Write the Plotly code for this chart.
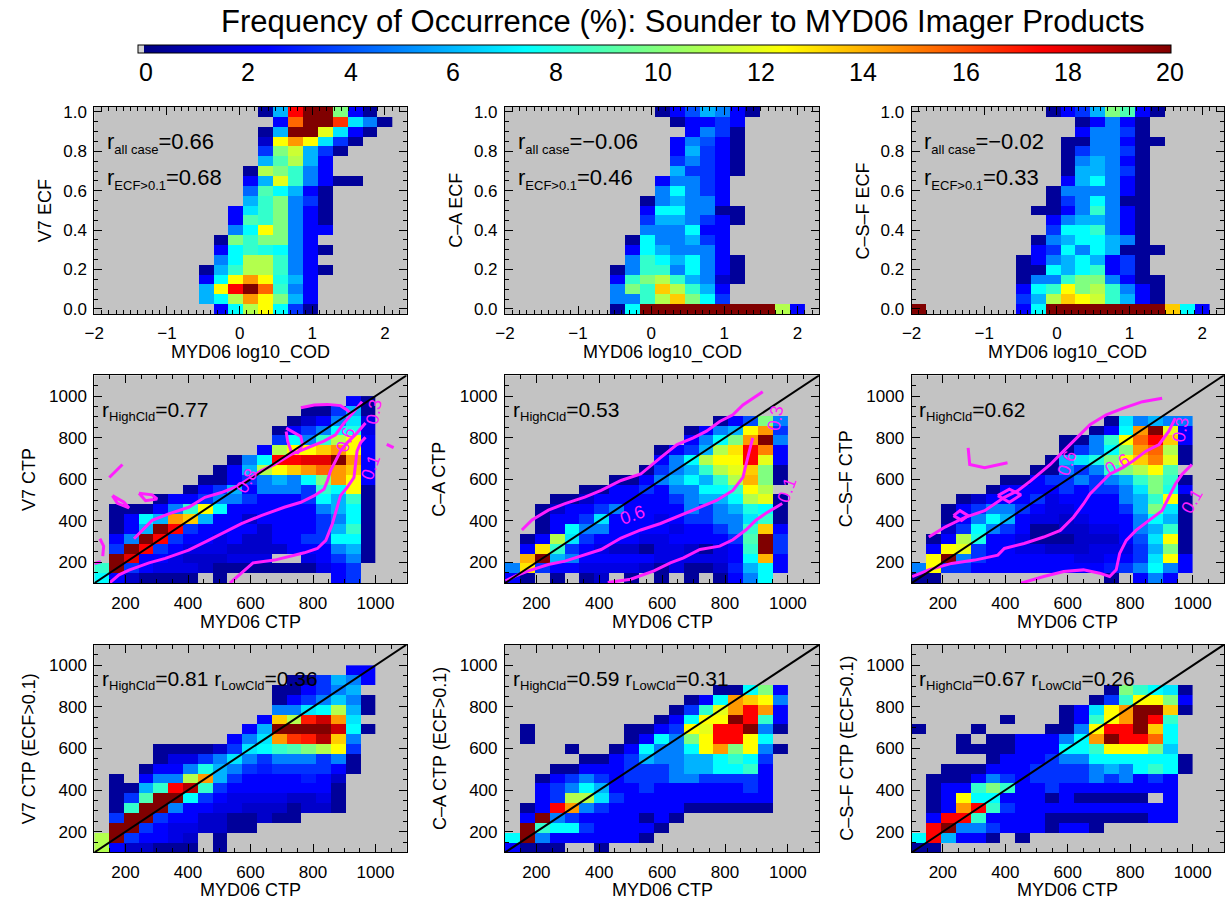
import numpy as np
import plotly.graph_objects as go

N = None

# ---------------------------------------------------------------------------
# Bin geometry
# ---------------------------------------------------------------------------
COD_EDGES = np.linspace(-2.0, 2.1, 21)      # log10(COD) histogram bins
ECF_EDGES = np.linspace(-0.025, 1.025, 22)  # ECF bins centred on 0.00 ... 1.00
CTP_EDGES = np.linspace(100.0, 1000.0, 20)  # CTP bins (hPa)
COD_FIRST_COL = 7                           # first populated COD bin in the tables below

# ---------------------------------------------------------------------------
# Row 1: sounder ECF vs MYD06 log10(COD), frequency (%)
# rows listed from ECF = 1.00 (top) down to ECF = 0.00; 13 COD bins each
# ---------------------------------------------------------------------------
V7_ECF = [
    [N, N, N, N, 0.6, 6, 17.5, 20, 20, 10, 2.5, 0.6, N],
    [N, N, N, N, N, 2.5, 15.5, 20, 20, 16.5, 7, 5, 0.6],
    [N, N, N, N, 0.6, 6, 20, 20, 12, 7, 2.5, 0.6, N],
    [N, N, N, N, 1.5, 12.5, 14.5, 12.5, 7, 3.5, 0.6, N, N],
    [N, N, N, N, 3.5, 10, 11.5, 6, 3.5, 0.6, N, N, N],
    [N, N, N, N, 6, 9, 11, 6, 2.5, N, N, N, N],
    [N, N, N, 0.6, 11, 10, 8.5, 5, 2.5, N, N, N, N],
    [N, N, N, 2.5, 6, 12, 8.5, 5, 2.5, 0.6, 0.6, N, N],
    [N, N, N, 4.5, 9, 7.5, 6, 2.5, 0.6, N, N, N, N],
    [N, N, N, 6, 8.5, 10, 5, 3.5, 0.6, N, N, N, N],
    [N, N, 2.5, 7, 8.5, 10, 5, 2.5, 0.6, N, N, N, N],
    [N, N, 2.5, 9, 8.5, 10, 5, 2.5, 0.6, N, N, N, N],
    [N, N, 5, 7.5, 12.5, 10, 5, 2.5, 2.5, N, N, N, N],
    [N, 0.6, 10, 8.5, 10, 10, 5, 2.5, N, N, N, N, N],
    [N, 2.5, 7.5, 8.5, 8, 7.5, 5, 2.5, 0.6, N, N, N, N],
    [N, 5, 7.5, 11, 11, 8.5, 5, 2.5, N, N, N, N, N],
    [0.6, 6, 8.5, 11, 11, 8.5, 5, 2.5, 0.6, N, N, N, N],
    [2.5, 7.5, 12.5, 14.5, 12.5, 8, 6, 2.5, N, N, N, N, N],
    [6, 12.5, 17.5, 20, 15.5, 8.5, 5, 2.5, N, N, N, N, N],
    [6, 7.5, 11, 14.5, 12.5, 10, 6, 2.5, N, N, N, N, N],
    [N, 2.5, 7.5, 11, 12.5, 7.5, 3.5, 0.6, N, N, N, N, N],
]

CA_ECF = [
    [N, N, N, 0.6, 2.5, 4, 6, 5, 2.5, 0.6, N, N, N],
    [N, N, N, N, 0.6, 2.5, 2.5, 3.5, 2.5, N, N, N, N],
    [N, N, N, N, N, 2.5, 5, 3.5, 0.6, N, N, N, N],
    [N, N, N, N, 2.5, 5, 4, 2.5, 0.6, N, N, N, N],
    [N, N, N, N, 2.5, 6, 3.5, 2.5, 0.6, N, N, N, N],
    [N, N, N, N, 3.5, 5, 3.5, 2.5, 0.6, N, N, N, N],
    [N, N, N, N, 6, 3.5, 3.5, 2.5, 0.6, N, N, N, N],
    [N, N, N, 2.5, 5, 5, 3.5, 2.5, N, N, N, N, N],
    [N, N, N, 5, 7.5, 5, 3.5, 2.5, N, N, N, N, N],
    [N, N, 0.6, 5, 6, 5, 5, 2.5, N, N, N, N, N],
    [N, N, 2.5, 7.5, 7.5, 5, 5, 0.6, 0.6, N, N, N, N],
    [N, N, 3.5, 6, 6, 5, 3.5, 2.5, 0.6, N, N, N, N],
    [N, N, 5, 5, 5, 7.5, 2.5, 2.5, N, N, N, N, N],
    [N, 0.6, 7.5, 5, 5, 6, 3.5, 2.5, N, N, N, N, N],
    [N, 2.5, 7.5, 6, 5, 5, 5, 2.5, N, N, N, N, N],
    [N, 5, 8.5, 7.5, 6, 7.5, 5, 2.5, 0.6, N, N, N, N],
    [0.6, 5, 8.5, 8.5, 5, 7.5, 5, 2.5, 0.6, N, N, N, N],
    [2.5, 8.5, 10, 11, 8.5, 6, 5, 1.5, 0.6, N, N, N, N],
    [5, 10, 8.5, 13.5, 11, 8.5, 6, 2.5, N, N, N, N, N],
    [5, 5, 8.5, 11, 13.5, 10, 7.5, 3.5, N, N, N, N, N],
    [0.6, 7.5, 25, 25, 25, 25, 25, 25, 25, 25, 25, 11, 2.5],
]

CSF_ECF = [
    [N, N, 0.6, 2.5, 3.5, 6, 10, 9, 2.5, 0.6, N, N, N],
    [N, N, N, N, 0.6, 2.5, 5, 2.5, 0.6, N, N, N, N],
    [N, N, N, N, 2.5, 5, 5, 3.5, 0.6, N, N, N, N],
    [N, N, N, 0.6, 0.6, 5, 5, 2.5, 0.6, 0.6, N, N, N],
    [N, N, N, 0.6, 3.5, 5, 5, 3.5, 0.6, N, N, N, N],
    [N, N, N, 0.6, 5, 6, 5, 2.5, 0.6, N, N, N, N],
    [N, N, N, 0.6, 6, 6, 5, 3.5, 0.6, N, N, N, N],
    [N, N, N, 2.5, 6, 7.5, 5, 2.5, 0.6, N, N, N, N],
    [N, N, 0.6, 5, 5, 5, 5, 2.5, 0.6, N, N, N, N],
    [N, N, 0.6, 3.5, 5, 7.5, 5, 0.6, 0.6, N, N, N, N],
    [N, 0.6, 0.6, 2.5, 5, 8.5, 5, 2.5, 0.6, N, N, N, N],
    [N, N, 2.5, 5, 6, 6, 5, 2.5, 0.6, N, N, N, N],
    [N, N, 3.5, 7.5, 7.5, 8.5, 5, 2.5, 0.6, N, N, N, N],
    [N, 0.6, 5, 6, 7.5, 7.5, 6, 5, 0.6, N, N, N, N],
    [N, 2.5, 3.5, 7.5, 5, 7.5, 6, 0.6, 0.6, 0.6, N, N, N],
    [0.6, 2.5, 5, 6, 7.5, 6, 2.5, 3.5, 0.6, N, N, N, N],
    [0.6, 0.6, 7.5, 6, 7.5, 8.5, 2.5, 3.5, 0.6, N, N, N, N],
    [0.6, 5, 5, 8.5, 10, 10, 5, 2.5, 0.6, 0.6, N, N, N],
    [2.5, 7.5, 8.5, 12.5, 10, 11, 8.5, 5, 2.5, 0.6, N, N, N],
    [3.5, 6, 11, 13.5, 12.5, 11.5, 8.5, 6, 2.5, 0.6, N, N, N],
    [2.5, 7.5, 25, 25, 25, 25, 25, 25, 25, 25, 13.5, 7.5, 2.5],
]
CSF_ECF_CLEAR_LOWEST_COD = 25   # ECF = 0 cases falling in the lowest COD bin

# ---------------------------------------------------------------------------
# Rows 2-3: sounder CTP vs MYD06 CTP, frequency (%)
# rows listed from the 953-1000 hPa bin (top) down to 100-147 hPa; 19 bins each
# ---------------------------------------------------------------------------
V7_CTP = [
    [N] * 17 + [2.5, 0.6],
    [N] * 14 + [0.6, 0.6, 3.5, 6, 0.6],
    [N] * 13 + [0.6, 1.5, 2.5, 5, 7, 2],
    [N] * 12 + [0.6, 2.5, 3.5, 5, 7.5, 8, 2],
    [N] * 12 + [3.5, 7.5, 5, 8.5, 11, 12.5, 2.5],
    [N] * 11 + [2.5, 11, 12.5, 12.5, 13.5, 14.5, 12.5, 2.5],
    [N] * 9 + [0.6, 5, 7.5, 17.5, 17.5, 18, 18, 20, 14.5, 2.5],
    [N] * 8 + [0.6, 2.5, 6, 11, 12.5, 13.5, 14.5, 15.5, 14.5, 13.5, 2.5],
    [N] * 7 + [0.6, 0.6, 2.5, 3.5, 5, 6, 5, 7.5, 10, 14.5, 12.5, 2.5],
    [N] * 6 + [0.6, 2.5, 3.5, 6, 2.5, 5, 5, 5, 3.5, 8.5, 7.5, 12.5, 0.6],
    [N] * 4 + [0.6, 2.5, 2.5, 3.5, 5, 5, 3.5, 2.5, 2.5, 2.5, 3.5, 7.5, 6, 8.5, 0.6],
    [N, 0.6, 0.6, 0.6, 2.5, 5, 8.5, 12.5, 7.5, 2.5, 2.5, 2.5, 2.5, 2.5, 2.5, 5, 6, 7.5, 0.6],
    [N, 0.6, 2.5, 7.5, 6, 14.5, 13.5, 6, 2.5, 2.5, 1.5, 2.5, 2.5, 2.5, 2.5, 3.5, 5, 7.5, 0.6],
    [N, 0.6, 2.5, 6, 20, 17.5, 3.5, 2.5, 2.5, 2.5, 2.5, 1.5, 2.5, 2.5, 2.5, 3.5, 6, 8.5, 0.6],
    [N, 2.5, 5, 20, 17.5, 3.5, 2.5, 2.5, 2, 2.5, 1.5, 1.5, 2.5, 2.5, 3.5, 3.5, 7.5, 7.5, 0.6],
    [N, 3.5, 20, 17.5, 3.5, 2.5, 2, 2, 2, 1.5, 1.5, 1.5, 1.5, 2.5, 2.5, 2.5, 5, 6, 0.6],
    [N, 20, 18, 2.5, 2.5, 2, 1.5, 1.5, 1.5, 2, 2, 2, N, N, 2, 2.5, 3.5, 5, 0.6],
    [8.5, 20, 3.5, 2.5, 2, 2, 2, 1.5, 0.6, 0.6, 0.6, 0.6, 0.6, 0.6, 0.6, 2, 2.5, 3.5, N],
    [7.5, 2.5, 1.5, 0.6, 0.6, 0.6, 0.6, N, 0.6, N, N, N, N, N, N, N, 2.5, 3.5, N],
]

CA_CTP = [
    [N] * 19,
    [N] * 19,
    [N] * 14 + [0.6, 2.5, 4, 10, 5],
    [N] * 12 + [0.6, 2.5, 5, 6, 12.5, 14.5, 3.5],
    [N] * 12 + [2.5, 5, 7.5, 10, 14.5, 20, 5],
    [N] * 10 + [0.6, 2.5, 3.5, 6, 11, 13, 17.5, 15, 2.5],
    [N] * 10 + [2.5, 5, 7.5, 11, 12.5, 12.5, 17.5, 12, 2.5],
    [N] * 9 + [0.6, 3.5, 5, 6, 8.5, 11, 12, 13.5, 10, 0.6],
    [N] * 7 + [0.6, 0.6, 2.5, 5, 6, 7.5, 6, 8.5, 11, 14, 10, 0.6],
    [N] * 5 + [0.6, 0.6, 2.5, 2.5, 3.5, 2.5, 5, 5, 7.5, 7.5, 8.5, 12.5, 11, N],
    [N] * 3 + [0.6, 0.6, 1.5, 2.5, 2.5, 2.5, 2.5, 2.5, 3.5, 5, 6, 6, 7.5, 11, 12, 0.6],
    [N] * 2 + [0.6, 1.5, 2.5, 2.5, 3.5, 5, 2.5, 2.5, 2.5, 2.5, 5, 3.5, 5, 6, 8, 7.5, 0.6],
    [N] * 2 + [0.6, 2.5, 2.5, 3.5, 7, 2.5, 2.5, 2.5, 2, 2.5, 3.5, 3.5, 5, 5, 7, 8.5, 0.6],
    [N] * 2 + [0.6, 2.5, 7.5, 5, 5, 2.5, 2.5, 2.5, 2.5, 2, 2.5, 2.5, 3.5, 5, 8.5, 13.5, 2.5],
    [N, 0.6, 2.5, 11, 7, 3.5, 2.5, 2.5, 2.5, 2, 2, 2.5, 2.5, 2.5, 2.5, 3.5, 9, 20, 3.5],
    [N, 2.5, 13, 8.5, 3.5, 2.5, 2, 1.5, 1.5, 0.6, 2, 2, 1.5, 0.6, 2, 2.5, 8.5, 20, 3.5],
    [N, 14, 20, 6, 5, 2.5, 2.5, 2.5, 2.5, 2.5, 2, 2, 2, 2, 2, 2.5, 7.5, 14, 2.5],
    [5, 13, 3.5, 2.5, 2.5, 2, 2, 2, 2, 1.5, 0.6, 2, 0.6, 0.6, 1.5, 3, 6, 7.5, 2.5],
    [2.5, 0.6, N, 0.6, N, 0.6, 1.5, N, 0.6, N, 0.6, N, 0.6, N, 0.6, 2.5, 5, 7.5, N],
]

CSF_CTP = [
    [N] * 19,
    [N] * 19,
    [N] * 13 + [0.6, 7, 5, 6, 5, 5],
    [N] * 12 + [0.6, 2.5, 7.5, 14.5, 20, 12, 2.5],
    [N] * 10 + [0.6, 0.6, 5, 8.5, 12.5, 15.5, 17.5, 13.5, 2.5],
    [N] * 10 + [0.6, 3.5, 5, 7.5, 10, 14.5, 15.5, 11, 0.6],
    [N] * 9 + [0.6, 6, 7, 8, 10, 12.5, 13.5, 15, 12, 0.6],
    [N] * 8 + [0.6, 0.6, 5, 3.5, 5, 8.5, 10, 11, 12.5, 9, N],
    [N] * 6 + [0.6, 0.6, 2.5, 3.5, 3.5, 5, 3.5, 5, 6, 8.5, 10, 8.5, 0.6],
    [N] * 5 + [0.6, 2.5, 2.5, 2.5, 2.5, 3.5, 2.5, 3.5, 3.5, 5, 7, 10, 8, 2.5],
    [N] * 3 + [0.6, 1.5, 2.5, 2.5, 2.5, 3.5, 2, 2.5, 2.5, 2.5, 2.5, 5, 6, 8.5, 12.5, 0.6],
    [N] * 2 + [0.6, 2.5, 3.5, 5, 5, 3.5, 2.5, 2, 2, 2.5, 2.5, 2.5, 3.5, 6, 10, 7, 0.6],
    [N] * 2 + [0.6, 2.5, 5, 7.5, 6, 2.5, 2, 2, 1.5, 2, 2.5, 2.5, 2.5, 5, 7.5, 6, 0.6],
    [N] * 2 + [1.5, 3.5, 7.5, 5, 3.5, 2.5, 0.6, 0.6, 1.5, 1.5, 2, 2, 2.5, 5, 6, 8.5, 0.6],
    [N, 0.6, 2.5, 11, 8, 2.5, 2.5, 2, 0.6, 0.6, 0.6, 1.5, 1.5, 1.5, 2.5, 4, 7, 12.5, 0.6],
    [N, 2.5, 12.5, 12, 3.5, 2.5, 2.5, 2, 2, 1.5, 1.5, 1.5, 2, 2, 2, 3.5, 6, 10, 0.6],
    [N, 12.5, 20, 5, 3.5, 2.5, 2.5, 2.5, 2.5, 2.5, 2.5, 2, 2, 2.5, 2.5, 3.5, 7, 12.5, 2.5],
    [5, 12.5, 3.5, 3.5, 2.5, 2.5, 2.5, 2.5, 2.5, 2.5, 2.5, 2.5, 2.5, 3, 3.5, 5, 7.5, 5, 2.5],
    [0.6, 0.6, N, N, N, N, N, N, N, N, N, N, N, 0.6, N, 2.5, 5, 2.5, N],
]

V7_CTP_ECF = [
    [N] * 17 + [2.5, 2.5],
    [N] * 13 + [0.6, 0.6, 3.5, 6, 5, 2.5],
    [N] * 12 + [0.6, 0.6, 2.5, 3.5, 5, 6, N],
    [N] * 12 + [0.6, 2.5, 3.5, 5, 6.5, 5, 0.6],
    [N] * 12 + [5, 5, 7, 7.5, 11, 6, 0.6],
    [N] * 11 + [2.5, 13.5, 11, 17, 18.5, 14.5, 7, N],
    [N] * 10 + [2.5, 6, 20, 20, 20, 20, 18.5, 7.5, 0.6],
    [N] * 9 + [2.5, 5, 7, 14.5, 16.5, 17, 19, 13.5, 5, N],
    [N] * 4 + [0.6, 0.6, 0.6, 0.6, 1.5, 3.5, 7, 7.5, 8.5, 9, 10, 11, 12.5, 3.5, N],
    [N] * 4 + [0.6, 2, 2, 3.5, 5, 7, 5, 3.5, 5, 5, 5, 3.5, 5, 0.6, N],
    [N] * 3 + [0.6, 2.5, 2.5, 5, 8, 6, 5, 3.5, 3, 3.5, 3.5, 3.5, 3.5, 2.5, 0.6, N],
    [N, 0.6, N, 2.5, 5, 5, 11, 14.5, 6, 3.5, 2.5, 2.5, 2.5, 2.5, 3, 2.5, 1.5, N, N],
    [N, 0.6, 0.6, 6, 8.5, 17.5, 19, 8.5, 3.5, 2.5, 2.5, 2.5, 2.5, 2.5, 2.5, 2.5, 0.6, N, N],
    [N, 0.6, 3.5, 9, 20, 20, 7.5, 3.5, 2.5, 2, 2, 2, 2, 1.5, 1.5, 2, 0.6, N, N],
    [N, 0.6, 8.5, 20, 20, 5, 2.5, 2.5, 2, 2, 1.5, 1.5, 1.5, 0.6, 1.5, 1.5, 0.6, N, N],
    [N, 3.5, 20, 20, 3.5, 2.5, 2.5, 1.5, 1.5, 0.6, 0.6, 1.5, 0.6, 0.6, N, N, N, N, N],
    [N, 20, 20, 3.5, 2.5, 2, 2, 1.5, 1.5, 0.6, 0.6, N, N, N, N, N, N, N, N],
    [11, 20, 3.5, 2.5, 2.5, 2, 1.5, N, 0.6, N, N, N, N, N, N, N, N, N, N],
    [11, 2.5, 1.5, 1.5, 0.6, 0.6, 0.6, N, 0.6, N, N, N, N, N, N, N, N, N, N],
]

CA_CTP_ECF = [
    [N] * 19,
    [N] * 19,
    [N] * 14 + [0.6, 0.6, 7.5, 10, 2.5],
    [N] * 12 + [0.6, 2.5, 7.5, 14.5, 13.5, 12.5, 5],
    [N] * 11 + [0.6, 3.5, 8.5, 12, 14.5, 17.5, 14.5, 2.5],
    [N] * 10 + [0.6, 2.5, 7.5, 12.5, 12.5, 20, 17.5, 8.5, 2.5],
    [N, 0.6] + [N] * 6 + [0.6, 0.6, 2.5, 3.5, 12.5, 12, 17.5, 17.5, 20, 5, 0.6],
    [N, 0.6] + [N] * 6 + [0.6, 2.5, 7.5, 5, 10, 12.5, 17.5, 17.5, 12.5, 7.5, N],
    [N] * 4 + [0.6, N, N, 0.6, 2.5, 7.5, 5, 5, 7.5, 12.5, 14.5, 10, 12.5, 5, 0.6],
    [N] * 5 + [0.6, 0.6, 2.5, 3.5, 6, 5, 5, 6, 6, 7.5, 8.5, 7.5, 3.5, N],
    [N] * 3 + [0.6, 0.6, 2.5, 2.5, 2.5, 3.5, 3.5, 3.5, 5, 6, 6, 7.5, 7.5, 8.5, 2.5, N],
    [N, N, 0.6, 2.5, 3.5, 5, 3.5, 2.5, 3.5, 3.5, 3.5, 5, 5, 3.5, 3.5, 3.5, 3.5, 2.5, N],
    [N, N, 2.5, 3.5, 5, 7.5, 6, 2.5, 2.5, 3.5, 2.5, 2.5, 2.5, 2.5, 2.5, 2.5, 3.5, 2.5, N],
    [N, N, 2.5, 3.5, 11, 11, 7, 3.5, 2.5, 2.5, 2.5, 2.5, 2.5, 2.5, 2.5, 2.5, 2.5, 2.5, N],
    [N, 0.6, 2.5, 17.5, 14.5, 5, 3.5, 2.5, 2.5, 2.5, 2.5, 2.5, 0.6, 0.6, 0.6, 0.6, 0.6, 0.6, N],
    [N, 2.5, 20, 5, 3.5, 2.5, 2.5, 2.5, 2.5, 0.6, 2.5, 0.6, N, N, N, N, N, N, N],
    [N, 20, 8.5, 7.5, 7.5, 3.5, 2.5, 2.5, 2.5, 2.5, 0.6, N, N, N, N, N, N, N, N],
    [7.5, 20, 5, 2.5, 2.5, 2.5, 2.5, 2.5, 2.5, 0.6, N, N, N, N, N, N, N, N, N],
    [2.5, 0.6, 0.6, 0.6, N, N, 0.6, N, N, N, N, N, N, N, N, N, N, N, N],
]

CSF_CTP_ECF = [
    [N] * 19,
    [N] * 19,
    [N] * 13 + [0.6, 10, 8.5, 7.5, 7, 0.6],
    [N] * 12 + [0.6, 3.5, 8.5, 12.5, 12.5, 10, 2.5],
    [N] * 10 + [0.6, 2.5, 7, 12.5, 14.5, 20, 20, 13.5, 0.6],
    [N] * 6 + [0.6] + [N] * 3 + [0.6, 2.5, 8.5, 12.5, 14.5, 20, 17.5, 8.5, N],
    [0.6] + [N] * 3 + [0.6] + [N] * 4 + [0.6, 0.6, 5, 12.5, 17.5, 17.5, 20, 13.5, 7.5, N],
    [N, N, N, 0.6, N, 0.6, 0.6, 2.5, 2.5, 2.5, 5, 7.5, 14.5, 20, 17.5, 17.5, 15.5, 7.5, N],
    [N] * 3 + [0.6, 0.6, 0.6, 0.6, 2.5, 2.5, 2.5, 7.5, 7.5, 8.5, 12.5, 12.5, 12.5, 10, 6.5, N],
    [N] * 5 + [0.6, 2.5, 2.5, 2.5, 3.5, 5, 5, 7.5, 7.5, 7.5, 7.5, 7.5, 7.5, 0.6],
    [N] * 2 + [0.6, 0.6, 0.6, 2.5, 2.5, 2.5, 3.5, 3.5, 3.5, 3.5, 5, 6, 5, 7.5, 8.5, 7.5, 0.6],
    [N, 0.6, 0.6, 0.6, 2.5, 5, 3.5, 2.5, 3.5, 3.5, 3.5, 3.5, 5, 3.5, 5, 2.5, 3.5, 2.5, N],
    [N, 0.6, 2.5, 2.5, 8.5, 10, 8.5, 2.5, 2.5, 3.5, 2.5, 2.5, 2.5, 2.5, 2.5, 2.5, 2.5, 2.5, N],
    [N, 0.6, 2.5, 12.5, 7.5, 7.5, 2.5, 2.5, 2.5, 0.6, 2.5, 0.6, 0.6, 0.6, 0.6, 0.6, N, 2.5, N],
    [N, 0.6, 2.5, 14.5, 17.5, 8.5, 3.5, 2.5, 2.5, 2.5, 2.5, 2.5, 2.5, 2.5, 2.5, 2.5, 2.5, 2.5, N],
    [N, 2.5, 17.5, 17.5, 8.5, 2.5, 2.5, 2.5, 2.5, 0.6, 0.6, 0.6, 0.6, 0.6, 0.6, 0.6, 2.5, 2.5, N],
    [N, 17.5, 20, 5, 5, 3.5, 2.5, 2.5, 2.5, 0.6, 2.5, 2.5, 0.6, N, N, N, N, N, N],
    [7.5, 17.5, 6, 2.5, 2.5, 0.6, N, 0.6, N, N, N, N, N, N, N, N, N, N, N],
    [0.6, 0.6, N, N, N, N, N, N, N, N, N, N, N, N, N, N, N, N, N],
]

# ---------------------------------------------------------------------------
# Contours of the sounder/imager agreement fraction (middle row), hPa
# ---------------------------------------------------------------------------
V7_CONTOURS = [
    ([534, 571, 608, 677, 730, 772, 814, 841, 862, 878, 888, 909, 931, 936, 941, 952, 968],
     [100, 148, 198, 211, 230, 246, 267, 306, 386, 465, 521, 560, 608, 671, 735, 775, 802]),
    ([148, 179, 211, 275, 327, 402, 465, 518, 571, 634, 708, 761, 804, 835, 846, 856, 872, 888, 909, 941, 968],
     [100, 140, 163, 198, 219, 259, 306, 346, 386, 425, 465, 489, 521, 552, 592, 640, 687, 735, 775, 822, 870]),
    ([227, 253, 285, 338, 402, 454, 507, 560, 592, 634, 677, 730, 782, 835, 872, 899, 931, 957],
     [314, 354, 402, 433, 465, 513, 536, 568, 600, 640, 671, 719, 751, 783, 814, 870, 925, 973]),
    ([761, 804, 846, 888, 909, 925], [944, 957, 960, 954, 933, 909]),
    ([714, 740, 761, 766, 751, 730, 719, 714], [846, 822, 806, 767, 727, 735, 782, 830]),
    ([100, 121], [195, 203]),
    ([118, 130, 127], [314, 278, 230]),
    ([148, 190], [608, 671]),
    ([158, 195, 211, 174, 158], [521, 489, 462, 484, 521]),
    ([243, 285, 301, 264, 243], [532, 525, 505, 497, 532]),
    ([1036, 1058], [768, 752]),
]
V7_LABELS = [("0.8", 587, 592, -60), ("0.6", 904, 790, -70), ("0.1", 983, 656, -70), ("0.3", 994, 925, -80)]

CA_CONTOURS = [
    ([427, 500, 574, 626, 668, 720, 783, 825, 867, 899, 930, 982],
     [103, 119, 159, 198, 222, 262, 278, 309, 357, 404, 436, 483]),
    ([102, 134, 175, 238, 291, 343, 406, 469, 532, 595, 658, 720, 773, 825, 857, 867, 878, 888],
     [111, 135, 159, 190, 206, 230, 262, 317, 356, 387, 427, 467, 498, 546, 609, 672, 736, 799]),
    ([154, 186, 238, 291, 354, 406, 469, 532, 595, 647, 699, 741, 783, 825, 857, 888, 920],
     [356, 404, 451, 483, 514, 546, 594, 625, 704, 767, 799, 831, 878, 910, 957, 989, 1021]),
]
CA_LABELS = [("0.6", 506, 427, -20), ("0.3", 961, 894, -80), ("0.1", 998, 546, -70)]

CSF_CONTOURS = [
    ([450, 523, 587, 650, 702, 734, 755, 766, 787, 818, 860, 902, 923, 944, 966, 997],
     [100, 132, 156, 164, 148, 132, 164, 243, 306, 354, 402, 449, 513, 576, 624, 671]),
    ([102, 155, 228, 302, 376, 397, 460, 523, 576, 618, 650, 671, 702, 734, 776, 808, 850, 892, 923, 944],
     [132, 164, 195, 211, 235, 267, 291, 322, 354, 417, 481, 529, 576, 624, 656, 687, 735, 767, 830, 894]),
    ([155, 207, 271, 334, 397, 439, 481, 544, 586, 629, 671, 723, 776, 839, 902],
     [322, 370, 417, 449, 513, 544, 592, 671, 735, 798, 862, 910, 941, 973, 989]),
    ([234, 255, 281, 260, 234], [425, 449, 425, 402, 425]),
    ([376, 413, 450, 413, 376], [521, 552, 525, 489, 521]),
    ([281, 286, 334, 407], [751, 671, 655, 679]),
]
CSF_LABELS = [("0.6", 760, 671, -30), ("0.6", 597, 679, -70), ("0.3", 960, 838, -80), ("0.1", 997, 497, -60)]

# ---------------------------------------------------------------------------
# Panel texts
# ---------------------------------------------------------------------------
ECF_LABELS = ["V7 ECF", "C\u2013A ECF", "C\u2013S\u2013F ECF"]
CTP_LABELS = ["V7 CTP", "C\u2013A CTP", "C\u2013S\u2013F CTP"]
CTP_ECF_LABELS = ["V7 CTP (ECF>0.1)", "C\u2013A CTP (ECF>0.1)", "C\u2013S\u2013F CTP (ECF>0.1)"]
R_ALL = ["0.66", "\u22120.06", "\u22120.02"]
R_ECF = ["0.68", "0.46", "0.33"]
R_HIGH = ["0.77", "0.53", "0.62"]
R_HIGH_ECF = ["0.81", "0.59", "0.67"]
R_LOW_ECF = ["0.36", "0.31", "0.26"]
COLORBAR_TICKS = list(range(0, 21, 2))
TITLE = "Frequency of Occurrence (%): Sounder to MYD06 Imager Products"

# ---------------------------------------------------------------------------
# Figure geometry (pixels of the 1226 x 905 page)
# ---------------------------------------------------------------------------
W, H = 1226, 905
COLS_PX = [(85, 400), (499, 816), (909, 1224)]
ROWS_PX = [(104, 313), (375, 585), (647, 857)]
CBAR_PX = (137, 1170)      # left/right ends of the colour bar
CBAR_TOP_PX = 41
CBAR_LABEL_PX = 69
FONT = "Liberation Sans, Arial, Helvetica, sans-serif"
MAGENTA = "#ff1eff"
CMIN, CMAX = 0, 20

JET = [
    [0.0, "#d4d4d4"], [0.006, "#d4d4d4"], [0.006, "#000080"],
    [0.125, "#0000ff"], [0.375, "#00ffff"], [0.625, "#ffff00"],
    [0.875, "#ff0000"], [1.0, "#800000"],
]


def dom_x(c):
    return [COLS_PX[c][0] / W, COLS_PX[c][1] / W]


def dom_y(r):
    return [1 - ROWS_PX[r][1] / H, 1 - ROWS_PX[r][0] / H]


def cod_matrix(rows):
    return [[None] * COD_FIRST_COL + list(r) for r in rows[::-1]]


fig = go.Figure()
annotations = []


def axis_style():
    return dict(
        showline=True, linecolor="black", linewidth=1, mirror="allticks",
        ticks="inside", ticklen=8, tickwidth=1, tickcolor="black",
        showgrid=False, zeroline=False,
        tickfont=dict(family=FONT, size=17, color="black"),
        minor=dict(ticks="inside", ticklen=4, tickwidth=1, tickcolor="black", showgrid=False),
    )


def r_text(sub, value, subsize=13):
    return ("r<sub><span style='font-size:%dpx'>%s</span></sub>=%s" % (subsize, sub, value))


layout_axes = {}
for i in range(9):
    r, c = divmod(i, 3)
    n = i + 1
    xa = "xaxis" if n == 1 else "xaxis%d" % n
    ya = "yaxis" if n == 1 else "yaxis%d" % n
    xref = "x" if n == 1 else "x%d" % n
    yref = "y" if n == 1 else "y%d" % n
    xs = axis_style()
    ys = axis_style()
    xs.update(domain=dom_x(c), anchor=yref)
    ys.update(domain=dom_y(r), anchor=xref)
    if r == 0:
        xs.update(range=[-2.0, 2.3], tick0=-2, dtick=1, ticklabelstandoff=4)
        xs["minor"].update(dtick=0.1)
        ys.update(range=[-0.025, 1.025], tick0=0, dtick=0.2, tickformat=".1f", ticklabelstandoff=3)
        ys["minor"].update(dtick=0.05)
    else:
        xs.update(range=[100, 1100], tickvals=[200, 400, 600, 800, 1000], ticklabelstandoff=4)
        xs["minor"].update(tick0=100, dtick=50)
        ys.update(range=[100, 1100], tickvals=[200, 400, 600, 800, 1000], ticklabelstandoff=3)
        ys["minor"].update(tick0=100, dtick=50)
    layout_axes[xa] = xs
    layout_axes[ya] = ys

ecf_grids = [V7_ECF, CA_ECF, CSF_ECF]
ctp_grids = [V7_CTP, CA_CTP, CSF_CTP]
ctp_ecf_grids = [V7_CTP_ECF, CA_CTP_ECF, CSF_CTP_ECF]
contours = [V7_CONTOURS, CA_CONTOURS, CSF_CONTOURS]
contour_labels = [V7_LABELS, CA_LABELS, CSF_LABELS]

for c in range(3):
    # --- row 1: ECF vs COD
    n = c + 1
    xr = "x" if n == 1 else "x%d" % n
    yr = "y" if n == 1 else "y%d" % n
    z = cod_matrix(ecf_grids[c])
    if c == 2:
        z[0][0] = CSF_ECF_CLEAR_LOWEST_COD
    fig.add_trace(go.Heatmap(z=z, x=COD_EDGES, y=ECF_EDGES, coloraxis="coloraxis",
                             xaxis=xr, yaxis=yr, hoverinfo="skip"))
    annotations.append(dict(xref=xr, yref=yr, x=-1.85, y=0.84, xanchor="left", yanchor="middle",
                            text=r_text("all case", R_ALL[c]), showarrow=False,
                            font=dict(family=FONT, size=22, color="black")))
    annotations.append(dict(xref=xr, yref=yr, x=-1.85, y=0.66, xanchor="left", yanchor="middle",
                            text=r_text("ECF>0.1", R_ECF[c]), showarrow=False,
                            font=dict(family=FONT, size=22, color="black")))

    # --- row 2: CTP with contours
    n = c + 4
    xr, yr = "x%d" % n, "y%d" % n
    fig.add_trace(go.Heatmap(z=ctp_grids[c][::-1], x=CTP_EDGES, y=CTP_EDGES, coloraxis="coloraxis",
                             xaxis=xr, yaxis=yr, hoverinfo="skip"))
    for px, py in contours[c]:
        fig.add_trace(go.Scatter(x=px, y=py, mode="lines", xaxis=xr, yaxis=yr,
                                 line=dict(color=MAGENTA, width=3), hoverinfo="skip", showlegend=False))
    fig.add_trace(go.Scatter(x=[100, 1100], y=[100, 1100], mode="lines", xaxis=xr, yaxis=yr,
                             line=dict(color="black", width=2), hoverinfo="skip", showlegend=False))
    for txt, lx, ly, ang in contour_labels[c]:
        annotations.append(dict(xref=xr, yref=yr, x=lx, y=ly, text=txt, textangle=ang, showarrow=False,
                                font=dict(family=FONT, size=18, color=MAGENTA)))
    annotations.append(dict(xref=xr, yref=yr, x=118, y=930, xanchor="left", yanchor="middle",
                            text=r_text("HighCld", R_HIGH[c]), showarrow=False,
                            font=dict(family=FONT, size=21, color="black")))

    # --- row 3: CTP for ECF > 0.1
    n = c + 7
    xr, yr = "x%d" % n, "y%d" % n
    fig.add_trace(go.Heatmap(z=ctp_ecf_grids[c][::-1], x=CTP_EDGES, y=CTP_EDGES, coloraxis="coloraxis",
                             xaxis=xr, yaxis=yr, hoverinfo="skip"))
    fig.add_trace(go.Scatter(x=[100, 1100], y=[100, 1100], mode="lines", xaxis=xr, yaxis=yr,
                             line=dict(color="black", width=2), hoverinfo="skip", showlegend=False))
    annotations.append(dict(xref=xr, yref=yr, x=118, y=928, xanchor="left", yanchor="middle",
                            text=r_text("HighCld", R_HIGH_ECF[c]) + " " + r_text("LowCld", R_LOW_ECF[c]),
                            showarrow=False, font=dict(family=FONT, size=21, color="black")))

# axis titles
X_TITLES = ["MYD06 log10_COD", "MYD06 CTP", "MYD06 CTP"]
X_TITLE_PX = [352, 624, 895]
Y_TITLES = [ECF_LABELS, CTP_LABELS, CTP_ECF_LABELS]
Y_TITLE_OFFSET = [49, 66, 66]
for r in range(3):
    for c in range(3):
        cx = (COLS_PX[c][0] + COLS_PX[c][1]) / 2 / W
        annotations.append(dict(xref="paper", yref="paper", x=cx, y=1 - X_TITLE_PX[r] / H,
                                xanchor="center", yanchor="middle", text=X_TITLES[r], showarrow=False,
                                font=dict(family=FONT, size=18, color="black")))
        cy = 1 - (ROWS_PX[r][0] + ROWS_PX[r][1]) / 2 / H
        annotations.append(dict(xref="paper", yref="paper", x=(COLS_PX[c][0] - Y_TITLE_OFFSET[r]) / W, y=cy,
                                xanchor="center", yanchor="middle", text=Y_TITLES[r][c], textangle=-90,
                                showarrow=False, font=dict(family=FONT, size=18, color="black")))

# colour-bar tick labels, placed along the bar's value scale
for v in COLORBAR_TICKS:
    px = CBAR_PX[0] + (v - CMIN) / (CMAX - CMIN) * (CBAR_PX[1] - CBAR_PX[0])
    annotations.append(dict(xref="paper", yref="paper", x=px / W, y=1 - CBAR_LABEL_PX / H,
                            xanchor="center", yanchor="middle", text=str(v), showarrow=False,
                            font=dict(family=FONT, size=25, color="black")))

annotations.append(dict(xref="paper", yref="paper", x=679 / W, y=1 - 18 / H, xanchor="center", yanchor="middle",
                        text=TITLE, showarrow=False, font=dict(family=FONT, size=31, color="black")))

fig.update_layout(
    width=W, height=H, autosize=False,
    margin=dict(l=0, r=0, t=0, b=0),
    paper_bgcolor="white", plot_bgcolor="#c3c3c3",
    showlegend=False,
    font=dict(family=FONT, color="black"),
    coloraxis=dict(
        cmin=CMIN, cmax=CMAX, colorscale=JET,
        colorbar=dict(
            orientation="h", x=(CBAR_PX[0] + CBAR_PX[1] - 8) / 2 / W, xanchor="center",
            y=1 - CBAR_TOP_PX / H, yanchor="top",
            len=(CBAR_PX[1] - CBAR_PX[0] + 8) / W, lenmode="fraction", thickness=8,
            outlinewidth=1, outlinecolor="black",
            tickvals=COLORBAR_TICKS, ticks="", showticklabels=False,
            xpad=0, ypad=0,
        ),
    ),
    annotations=annotations,
    **layout_axes,
)

fig.write_html("out.html")
